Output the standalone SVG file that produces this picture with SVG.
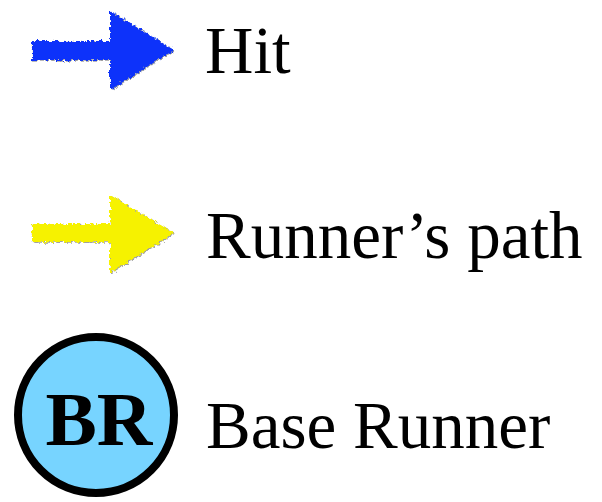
<svg xmlns="http://www.w3.org/2000/svg" width="602" height="502" viewBox="0 0 602 502">
  <style>
    .label { font-family: "Liberation Serif", "Times New Roman", serif; font-size: 67px; fill: #000; }
    .br { font-family: "Liberation Serif", "Times New Roman", serif; font-size: 77px; font-weight: bold; fill: #000; }
  </style>
  <defs>
    <filter id="rough" x="-10%" y="-10%" width="120%" height="120%">
      <feTurbulence type="fractalNoise" baseFrequency="0.35" numOctaves="2" seed="3" result="noise"/>
      <feDisplacementMap in="SourceGraphic" in2="noise" scale="6" xChannelSelector="R" yChannelSelector="G" result="disp"/>
      <feGaussianBlur in="disp" stdDeviation="0.6"/>
    </filter>
  </defs>
  <rect width="602" height="502" fill="#fff"/>
  <g id="legend-hit">
    <polygon points="32,41 110,41 110,11 174,50 110,90 110,60 32,60" fill="#444" filter="url(#rough)" opacity="0.5" transform="translate(0.8,0.8)"/>
    <polygon points="32,41 110,41 110,11 174,50 110,90 110,60 32,60" fill="#0a32fa" filter="url(#rough)"/>
    <text class="label" x="205" y="73">Hit</text>
  </g>
  <g id="legend-runner-path">
    <polygon points="32,224 110,224 110,195 174,233 110,273 110,242 32,242" fill="#444" filter="url(#rough)" opacity="0.5" transform="translate(0.8,0.8)"/>
    <polygon points="32,224 110,224 110,195 174,233 110,273 110,242 32,242" fill="#f6f200" filter="url(#rough)"/>
    <text class="label" x="206" y="258">Runner’s path</text>
  </g>
  <g id="legend-base-runner">
    <circle cx="96" cy="415" r="78" fill="#77d4ff" stroke="#000" stroke-width="8"/>
    <text class="br" x="99" y="445" text-anchor="middle">BR</text>
    <text class="label" x="206" y="448">Base Runner</text>
  </g>
</svg>
